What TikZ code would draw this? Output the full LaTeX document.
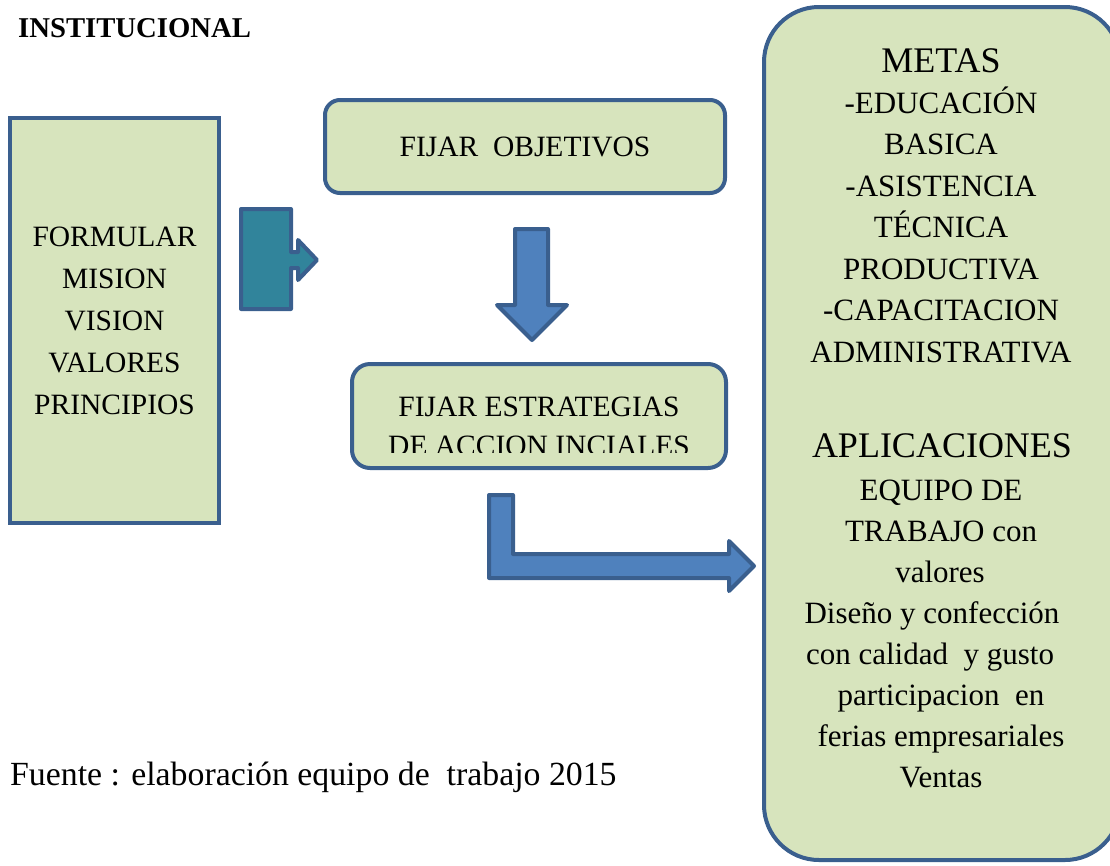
\documentclass[tikz,border=0pt]{standalone}
\usepackage{fontspec}
\newfontfamily\timesfont{Liberation Serif}
\definecolor{boxgreen}{HTML}{D7E4BD}
\definecolor{edgeblue}{HTML}{3A5F8E}
\definecolor{arrowblue}{HTML}{4F81BD}
\definecolor{arrowteal}{HTML}{31849B}
\tikzset{
  greenbox/.style={draw=edgeblue, fill=boxgreen, line width=4pt, inner sep=0pt},
  blockarrow/.style={draw=edgeblue, line width=4pt, line join=round},
  boxtext/.style={font=\timesfont\fontsize{29.5}{42}\selectfont, align=center},
  metatext/.style={font=\timesfont\fontsize{31}{41.5}\selectfont, anchor=base},
  headtext/.style={font=\timesfont\fontsize{36}{40}\selectfont, anchor=base}
}
\begin{document}
\begin{tikzpicture}[x=1pt, y=-1pt]
\useasboundingbox (0,0) rectangle (1110,865);
\clip (0,0) rectangle (1110,865);

% Draw the title
\node[anchor=base west, font=\timesfont\bfseries\fontsize{28.7}{30}\selectfont, inner sep=0pt] (title) at (18,37) {INSTITUCIONAL};

% Draw the left box
\node[greenbox, boxtext, minimum width=209pt, minimum height=405pt] (formular) at (114.5,320.5)
  {FORMULAR\\MISION\\VISION\\VALORES\\PRINCIPIOS};

% Draw the teal arrow
\draw[blockarrow, fill=arrowteal] (241,209) -- (291,209) -- (291,252) -- (298,252) -- (298,240)
  -- (317,260) -- (298,280) -- (298,268) -- (291,268) -- (291,309) -- (241,309) -- cycle;

% Draw the boxes in the middle
\node[greenbox, boxtext, rounded corners=15pt, minimum width=400pt, minimum height=93pt] (objetivos) at (525,146.5)
  {FIJAR~~OBJETIVOS};
\node[greenbox, rounded corners=18pt, minimum width=374pt, minimum height=104pt] (estrategias) at (539,416) {};
\begin{scope}
\clip (356,368) rectangle (722,452);
\node[boxtext, anchor=base] (estr1) at (539,416) {FIJAR ESTRATEGIAS};
\node[boxtext, anchor=base] (estr2) at (539,455) {DE ACCION INCIALES};
\end{scope}

% Draw the down arrow
\draw[blockarrow, fill=arrowblue] (515,229) -- (548,229) -- (548,305) -- (567,305)
  -- (532,340) -- (497,305) -- (515,305) -- cycle;

% Draw the bent arrow
\draw[blockarrow, fill=arrowblue] (489,495) -- (513,495) -- (513,554) -- (729,554) -- (729,541)
  -- (754,566) -- (729,591) -- (729,578) -- (489,578) -- cycle;

% Draw the right box
\node[greenbox, rounded corners=55pt, minimum width=356pt, minimum height=853pt] (metas) at (942,433.5) {};

% Draw the texts of the right box
\node[headtext] (metashead) at (941,72) {METAS};
\foreach \t [count=\i] in {-EDUCACIÓN,BASICA,-ASISTENCIA,TÉCNICA,PRODUCTIVA,-CAPACITACION,ADMINISTRATIVA}
  \node[metatext] (meta\i) at (941,{113+41.5*(\i-1)}) {\t};
\node[headtext] (aplhead) at (942,457) {APLICACIONES};
\foreach \xc/\t [count=\i] in {941/EQUIPO DE, 941/TRABAJO con, 940/valores, 932/Diseño y confección,
    930/con calidad~~y gusto, 941/participacion~~en, 941/ferias empresariales, 941/Ventas}
  \node[metatext] (apl\i) at (\xc,{500+41*(\i-1)}) {\t};

% Draw the source
\node[anchor=base west, font=\timesfont\fontsize{33.8}{36}\selectfont, inner sep=0pt] (fuente) at (10,785)
  {Fuente : elaboración equipo de~~trabajo 2015};
\end{tikzpicture}
\end{document}
